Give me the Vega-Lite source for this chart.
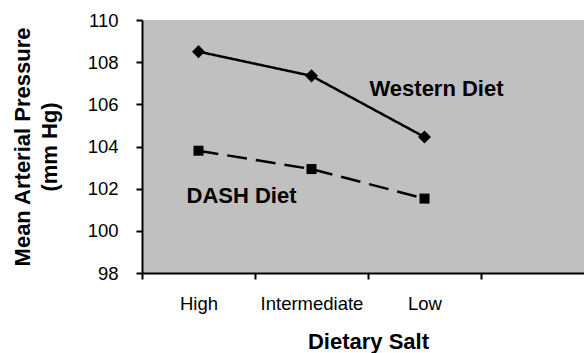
{
  "$schema": "https://vega.github.io/schema/vega-lite/v6.json",
  "width": 442,
  "height": 253,
  "autosize": "none",
  "padding": {"left": 142, "top": 20, "right": 0, "bottom": 80},
  "background": "white",
  "config": {
    "view": {"fill": "#C0C0C0", "stroke": null},
    "font": "Liberation Sans"
  },
  "datasets": {
    "bp": [
      {"salt": "High", "diet": "Western Diet", "map": 108.5},
      {"salt": "Intermediate", "diet": "Western Diet", "map": 107.35},
      {"salt": "Low", "diet": "Western Diet", "map": 104.45},
      {"salt": "High", "diet": "DASH Diet", "map": 103.8},
      {"salt": "Intermediate", "diet": "DASH Diet", "map": 102.93},
      {"salt": "Low", "diet": "DASH Diet", "map": 101.53}
    ],
    "labels": [
      {"salt": "Low", "label": "Western Diet", "map": 106.72},
      {"salt": "High", "label": "DASH Diet", "map": 101.67}
    ]
  },
  "encoding": {
    "x": {
      "field": "salt",
      "type": "nominal",
      "scale": {"type": "band", "domain": ["High", "Intermediate", "Low", "_"], "range": [0, 452], "paddingInner": 0, "paddingOuter": 0},
      "axis": {
        "title": "Dietary Salt",
        "titleFontSize": 22,
        "titleFontWeight": "bold",
        "titleColor": "black",
        "titlePadding": 19,
        "labelExpr": "datum.value == '_' ? '' : datum.value",
        "labelFontSize": 18.5,
        "labelColor": "black",
        "labelAngle": 0,
        "labelPadding": 15,
        "tickBand": "extent",
        "tickSize": 6,
        "tickColor": "black",
        "tickWidth": 2,
        "domainColor": "black",
        "domainWidth": 2,
        "grid": false
      }
    },
    "y": {
      "field": "map",
      "type": "quantitative",
      "scale": {"domain": [98, 110], "nice": false, "zero": false},
      "axis": {
        "title": ["Mean Arterial Pressure", "(mm Hg)"],
        "titleFontSize": 22,
        "titleFontWeight": "bold",
        "titleColor": "black",
        "titleLineHeight": 27,
        "titlePadding": 26,
        "values": [98, 100, 102, 104, 106, 108, 110],
        "labelFontSize": 18.5,
        "labelColor": "black",
        "labelPadding": 18,
        "tickSize": 6,
        "tickColor": "black",
        "tickWidth": 2,
        "domainColor": "black",
        "domainWidth": 2,
        "grid": false
      }
    }
  },
  "layer": [
    {
      "data": {"name": "bp"},
      "mark": {"type": "line", "color": "black", "strokeWidth": 2.5},
      "encoding": {
        "detail": {"field": "diet"},
        "strokeDash": {
          "field": "diet",
          "type": "nominal",
          "scale": {"domain": ["Western Diet", "DASH Diet"], "range": [[1, 0], [20, 9]]},
          "legend": null
        }
      }
    },
    {
      "data": {"name": "bp"},
      "mark": {"type": "point", "filled": true, "color": "black", "opacity": 1},
      "encoding": {
        "shape": {
          "field": "diet",
          "type": "nominal",
          "scale": {"domain": ["Western Diet", "DASH Diet"], "range": ["diamond", "square"]},
          "legend": null
        },
        "size": {
          "field": "diet",
          "type": "nominal",
          "scale": {"domain": ["Western Diet", "DASH Diet"], "range": [170, 100]},
          "legend": null
        }
      }
    },
    {
      "data": {"name": "labels"},
      "transform": [{"filter": "datum.label == 'Western Diet'"}],
      "mark": {"type": "text", "fontSize": 22, "fontWeight": "bold", "color": "black", "align": "center", "baseline": "middle", "dx": 12},
      "encoding": {"text": {"field": "label"}}
    },
    {
      "data": {"name": "labels"},
      "transform": [{"filter": "datum.label == 'DASH Diet'"}],
      "mark": {"type": "text", "fontSize": 22, "fontWeight": "bold", "color": "black", "align": "center", "baseline": "middle", "dx": 43},
      "encoding": {"text": {"field": "label"}}
    }
  ]
}
